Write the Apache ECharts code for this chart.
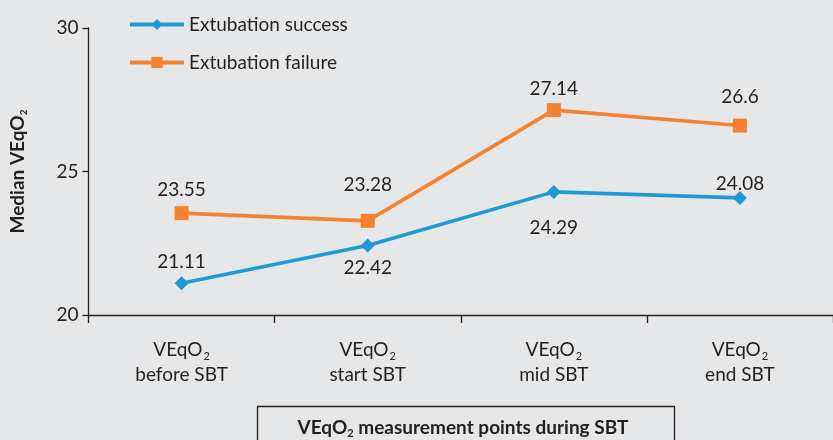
<!DOCTYPE html>
<html>
<head>
<meta charset="utf-8">
<script src="https://cdn.jsdelivr.net/npm/echarts@6/dist/echarts.min.js"></script>
<style>
html,body{margin:0;padding:0;background:#e6e7e9;}
#c{width:833px;height:440px;}
</style>
</head>
<body>
<div id="c"></div>
<script>
var categories = ['before SBT', 'start SBT', 'mid SBT', 'end SBT'];
var success = [21.11, 22.42, 24.29, 24.08];
var failure = [23.55, 23.28, 27.14, 26.6];
var seriesNames = ['Extubation success', 'Extubation failure'];
var yTicks = [20, 25, 30];

var FONT = 'Lato';
var FS = 19;
var TXT = '#231f20';
var BLUE = '#1e9bd7';
var ORANGE = '#f58232';

// label placement (offsets in px), kept apart from the data
var successLabel = [
  {position: 'top', distance: 5},
  {position: 'bottom', distance: 6},
  {position: 'bottom', distance: 19},
  {position: 'top', distance: -2}
];
var failureLabel = [
  {position: 'top', distance: 7},
  {position: 'top', distance: 19},
  {position: 'top', distance: 5},
  {position: 'top', distance: 12}
];

function mk(vals, lab) {
  return vals.map(function (v, i) {
    return {value: v, label: lab[i]};
  });
}

var chart = echarts.init(document.getElementById('c'), null, {renderer: 'canvas'});
var option = {
  backgroundColor: '#e6e7e9',
  animation: false,
  textStyle: {fontFamily: FONT, color: TXT},
  grid: {left: 88, top: 28, width: 752, height: 287, containLabel: false},
  legend: {
    orient: 'vertical',
    left: 123,
    top: 10,
    itemWidth: 54,
    itemHeight: 14,
    itemGap: 19,
    lineStyle: {width: 4},
    textStyle: {fontFamily: FONT, fontSize: FS, color: TXT},
    data: seriesNames
  },
  xAxis: {
    type: 'category',
    data: categories,
    boundaryGap: true,
    axisLine: {show: true, lineStyle: {color: TXT, width: 1.3}},
    axisTick: {show: true, length: 8, lineStyle: {color: TXT, width: 1.3}},
    axisLabel: {
      margin: 22,
      formatter: function (v) { return '{m|VEqO}{s|2}\n{m|' + v + '}'; },
      rich: {
        m: {fontFamily: FONT, fontSize: FS, color: TXT, lineHeight: 25},
        s: {fontFamily: FONT, fontSize: 11, color: TXT, lineHeight: 25, verticalAlign: 'bottom', padding: [0, 0, 0, 1]}
      }
    },
    splitLine: {show: false}
  },
  yAxis: {
    type: 'value',
    min: yTicks[0],
    max: yTicks[yTicks.length - 1],
    interval: yTicks[1] - yTicks[0],
    axisLine: {show: true, lineStyle: {color: TXT, width: 1.3}},
    axisTick: {show: true, length: 6, lineStyle: {color: TXT, width: 1.3}},
    axisLabel: {fontFamily: FONT, fontSize: FS, color: TXT, margin: 10},
    splitLine: {show: false},
    name: '{b|Median VEqO}{bs|2}',
    nameLocation: 'middle',
    nameRotate: 90,
    nameGap: 60,
    nameTextStyle: {
      rich: {
        b: {fontFamily: FONT, fontSize: FS, fontWeight: 'bold', color: TXT, lineHeight: 22},
        bs: {fontFamily: FONT, fontSize: 10, fontWeight: 'bold', color: TXT, lineHeight: 22, verticalAlign: 'bottom'}
      }
    }
  },
  series: [
    {
      name: seriesNames[0],
      type: 'line',
      data: mk(success, successLabel),
      symbol: 'diamond',
      symbolSize: 14,
      lineStyle: {color: BLUE, width: 3.6},
      itemStyle: {color: BLUE},
      label: {show: true, fontFamily: FONT, fontSize: FS, color: TXT}
    },
    {
      name: seriesNames[1],
      type: 'line',
      data: mk(failure, failureLabel),
      symbol: 'rect',
      symbolSize: 14,
      lineStyle: {color: ORANGE, width: 3.6},
      itemStyle: {color: ORANGE},
      label: {show: true, fontFamily: FONT, fontSize: FS, color: TXT}
    }
  ],
  graphic: [
    {
      type: 'rect',
      left: 255,
      top: 404,
      shape: {width: 417, height: 50},
      style: {fill: 'none', stroke: TXT, lineWidth: 1.3}
    },
    {
      type: 'text',
      x: 463,
      y: 428,
      style: {
        text: '{b|VEqO}{bs|2}{b| measurement points during SBT}',
        align: 'center',
        verticalAlign: 'middle',
        rich: {
          b: {fontFamily: FONT, fontSize: FS, fontWeight: 'bold', fill: TXT, lineHeight: 22},
          bs: {fontFamily: FONT, fontSize: 11, fontWeight: 'bold', fill: TXT, lineHeight: 22, verticalAlign: 'bottom'}
        }
      }
    }
  ]
};
chart.setOption(option);
</script>
</body>
</html>
